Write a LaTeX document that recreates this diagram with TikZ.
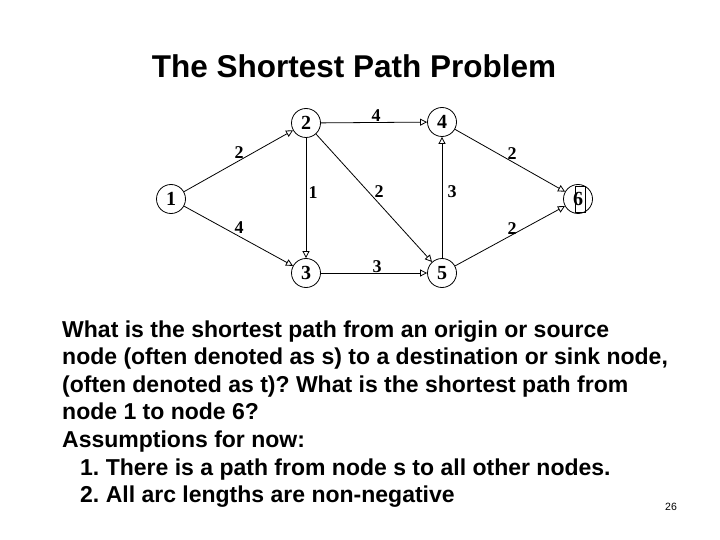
\documentclass[tikz,border=0pt]{standalone}
\usepackage{fontspec}
\setmainfont{Liberation Sans}
\newfontfamily\serifg{Liberation Serif}
\usetikzlibrary{arrows.meta}
\frenchspacing
\begin{document}
\begin{tikzpicture}[x=1pt,y=-1pt,
  vtx/.style={circle,draw,line width=0.8pt,minimum size=29pt,inner sep=0pt,font=\serifg\bfseries\fontsize{20}{20}\selectfont},
  arc/.style={line width=0.8pt,-{Triangle[open,length=7pt,width=7pt]}},
  wt/.style={font=\serifg\bfseries\fontsize{18}{18}\selectfont,inner sep=0pt},
  body/.style={anchor=base west,inner sep=0pt,font=\bfseries\fontsize{23}{23}\selectfont}]
\useasboundingbox (0,0) rectangle (720,540);
\node[font=\bfseries\fontsize{31.5}{31.5}\selectfont,anchor=base] (title) at (354,78) {The Shortest Path Problem};
\node[vtx] (n1) at (171,199) {1};
\node[vtx] (n2) at (306,123) {2};
\node[vtx] (n3) at (306,273) {3};
\node[vtx] (n4) at (442,122) {4};
\node[vtx] (n5) at (442,273) {5};
\node[vtx] (n6) at (578,199) {6};
\draw[line width=0.7pt] (575,186) rectangle (585,212);
\draw[arc] (n1) -- (n2);
\draw[arc] (n1) -- (n3);
\draw[arc] (n2) -- (n3);
\draw[arc] (n2) -- (n4);
\draw[arc] (n2) -- (n5);
\draw[arc] (n3) -- (n5);
\draw[arc] (n5) -- (n4);
\draw[arc] (n4) -- (n6);
\draw[arc] (n5) -- (n6);
\node[wt] (w12) at (239,153) {2};
\node[wt] (w13) at (239,228) {4};
\node[wt] (w23) at (313,193) {1};
\node[wt] (w24) at (376,116) {4};
\node[wt] (w25) at (379,192) {2};
\node[wt] (w54) at (452,192) {3};
\node[wt] (w35) at (377,267) {3};
\node[wt] (w46) at (512,154) {2};
\node[wt] (w56) at (512,229) {2};
\node[body] (l1) at (62,337) {What is the shortest path from an origin or source};
\node[body] (l2) at (62,364) {node (often denoted as s) to a destination or sink node,};
\node[body] (l3) at (62,392) {(often denoted as t)? What is the shortest path from};
\node[body] (l4) at (62,419) {node 1 to node 6?};
\node[body] (l5) at (62,447) {Assumptions for now:};
\node[body] (l6) at (80,475) {1. There is a path from node s to all other nodes.};
\node[body] (l7) at (80,502) {2. All arc lengths are non-negative};
\node[font=\fontsize{10.5}{10.5}\selectfont,anchor=base] (pg) at (671,510) {26};
\end{tikzpicture}
\end{document}
